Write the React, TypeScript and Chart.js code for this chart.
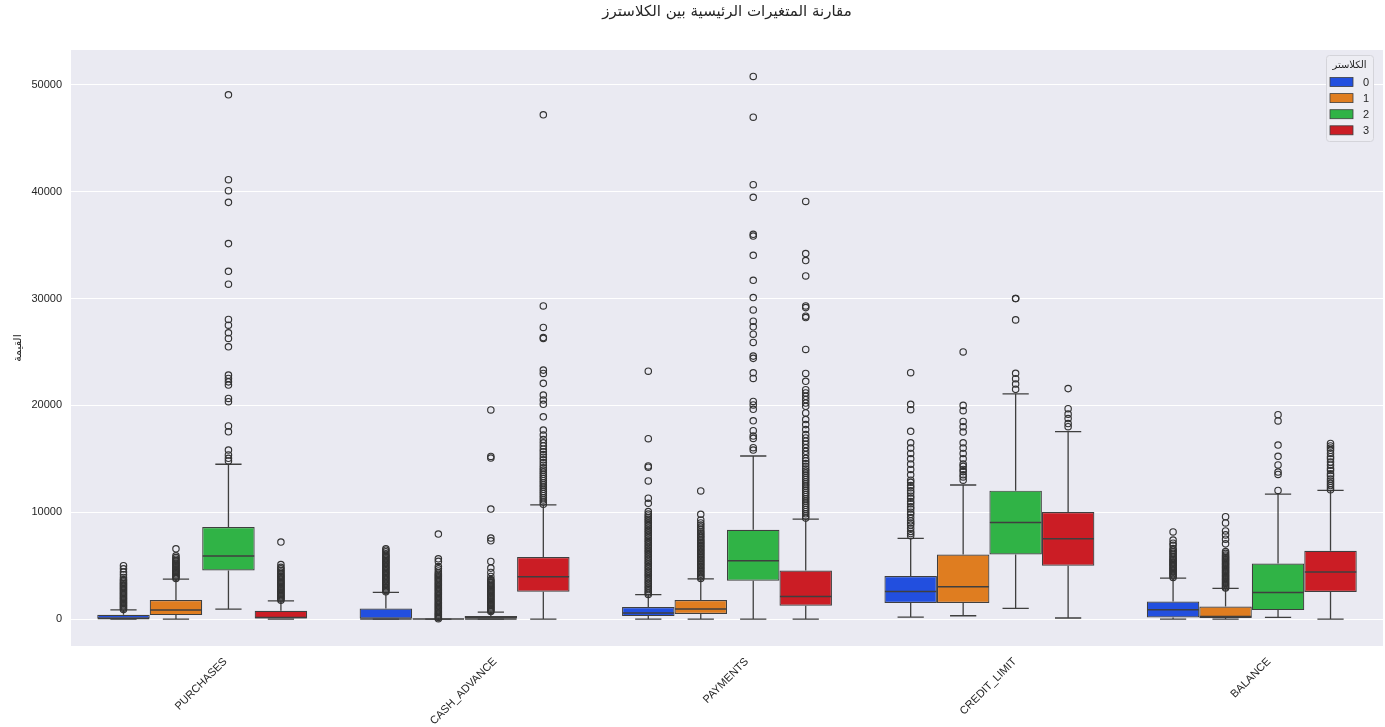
import { useEffect, useRef } from 'react';
import { Chart, registerables } from 'chart.js';

Chart.register(...registerables);

const chartTitle = 'مقارنة المتغيرات الرئيسية بين الكلاسترز';
const yAxisTitle = 'القيمة';
const legendTitle = 'الكلاستر';

const categories = ['PURCHASES', 'CASH_ADVANCE', 'PAYMENTS', 'CREDIT_LIMIT', 'BALANCE'];
const clusters = ['0', '1', '2', '3'];
const yTickValues = [0, 10000, 20000, 30000, 40000, 50000];

// box statistics per cluster, in category order
const whiskerLow = [
  [0, 0, 0, 190, 0],
  [0, 0, 0, 310, 0],
  [940, 0, 0, 1000, 150],
  [0, 0, 0, 100, 0],
];
const q1 = [
  [0, 0, 280, 1500, 150],
  [370, 0, 470, 1500, 90],
  [4550, 0, 3590, 6050, 840],
  [0, 2560, 1250, 5000, 2530],
];
const median = [
  [60, 0, 560, 2580, 870],
  [840, 0, 940, 3020, 240],
  [5900, 0, 5460, 9050, 2490],
  [150, 3960, 2120, 7520, 4400],
];
const q3 = [
  [400, 990, 1120, 4030, 1650],
  [1780, 0, 1780, 6050, 1180],
  [8610, 280, 8360, 12020, 5200],
  [780, 5800, 4550, 10020, 6400],
];
const whiskerHigh = [
  [870, 2490, 2280, 7550, 3840],
  [3740, 0, 3770, 12550, 2870],
  [14490, 650, 15260, 21070, 11700],
  [1710, 10680, 9360, 17540, 12040],
];

// outliers per cluster, per category
const outliers0 = [
  [900, 1010, 1120, 1240, 1350, 1470, 1580, 1700, 1820, 1930, 2050, 2160, 2280, 2400, 2510, 2630, 2740, 2860, 2980, 3090, 3210, 3330, 3450, 3580, 3700, 3900, 4150, 4400, 4700, 5000],
  [2550, 2670, 2790, 2910, 3030, 3160, 3280, 3400, 3520, 3650, 3770, 3890, 4010, 4140, 4260, 4380, 4500, 4630, 4750, 4870, 4990, 5120, 5240, 5360, 5480, 5610, 5730, 5850, 5970, 6100, 6300, 6450, 6580],
  [2300, 2450, 2610, 2760, 2930, 3080, 3250, 3400, 3570, 3720, 3890, 4050, 4200, 4370, 4520, 4690, 4850, 5000, 5170, 5320, 5490, 5650, 5800, 5970, 6130, 6290, 6440, 6610, 6770, 6920, 7090, 7250, 7400, 7570, 7730, 7880, 8050, 8210, 8360, 8530, 8690, 8840, 9010, 9170, 9330, 9490, 9650, 9820, 10060, 10840, 11310, 12930, 14210, 14330, 16880, 23200],
  [7800, 8000, 8200, 8500, 8800, 9000, 9200, 9500, 9800, 10000, 10300, 10500, 10800, 11000, 11300, 11500, 11800, 12000, 12300, 12500, 12800, 13000, 13500, 14000, 14500, 15000, 15500, 16000, 16500, 17570, 19600, 20100, 23060],
  [3900, 4020, 4140, 4260, 4380, 4500, 4620, 4740, 4860, 4980, 5100, 5220, 5340, 5460, 5580, 5700, 5850, 6000, 6150, 6300, 6450, 6600, 6900, 7100, 7400, 8150],
];
const outliers1 = [
  [3800, 3910, 4020, 4130, 4240, 4350, 4460, 4570, 4680, 4790, 4900, 5010, 5120, 5230, 5350, 5470, 5600, 5750, 5920, 6580],
  [40, 150, 260, 370, 480, 600, 720, 840, 960, 1080, 1200, 1320, 1440, 1560, 1680, 1800, 1920, 2040, 2160, 2280, 2400, 2520, 2640, 2760, 2880, 3000, 3120, 3240, 3360, 3480, 3600, 3720, 3840, 3960, 4080, 4200, 4320, 4500, 4700, 4920, 5400, 5640, 7960],
  [3800, 3930, 4060, 4190, 4320, 4450, 4580, 4710, 4840, 4970, 5100, 5230, 5360, 5490, 5620, 5750, 5880, 6010, 6140, 6270, 6400, 6530, 6660, 6790, 6920, 7050, 7180, 7310, 7450, 7600, 7750, 7900, 8050, 8200, 8400, 8600, 8800, 9000, 9280, 9810, 11990],
  [13000, 13300, 13500, 13800, 14000, 14300, 14500, 15000, 15500, 16000, 16500, 17500, 18000, 18500, 19500, 20000, 25000],
  [2900, 3010, 3120, 3230, 3340, 3450, 3560, 3670, 3780, 3890, 4000, 4110, 4220, 4330, 4440, 4550, 4660, 4770, 4880, 4990, 5100, 5210, 5320, 5430, 5540, 5650, 5760, 5880, 6000, 6150, 6320, 7040, 7480, 7880, 8250, 9000, 9580],
];
const outliers2 = [
  [14800, 15050, 15360, 15820, 17530, 18070, 20340, 20650, 21900, 22200, 22520, 22830, 25480, 26260, 26790, 27500, 28040, 31340, 32550, 35140, 39000, 40090, 41120, 49070],
  [700, 810, 920, 1030, 1140, 1250, 1360, 1470, 1580, 1690, 1800, 1910, 2020, 2130, 2240, 2350, 2460, 2570, 2680, 2790, 2900, 3010, 3120, 3240, 3360, 3480, 3600, 3700, 3990, 4360, 4770, 5390, 7330, 7580, 10300, 15070, 15220, 19570],
  [15820, 16040, 16910, 17130, 17630, 18560, 19630, 20040, 20370, 22520, 23050, 24400, 24610, 25890, 26660, 27350, 27880, 28930, 30090, 31710, 34050, 35850, 36010, 39470, 40650, 46970, 50780],
  [21500, 22000, 22500, 23000, 28000, 30000, 30000],
  [12040, 13540, 13760, 14420, 15230, 16290, 18540, 19130],
];
const outliers3 = [
  [1760, 1870, 1980, 2090, 2200, 2310, 2420, 2530, 2640, 2750, 2860, 2970, 3080, 3190, 3300, 3410, 3520, 3640, 3760, 3880, 4000, 4130, 4260, 4400, 4550, 4700, 4850, 5100, 7210],
  [10750, 10950, 11150, 11350, 11550, 11750, 11950, 12150, 12350, 12550, 12750, 12950, 13150, 13350, 13550, 13750, 13950, 14150, 14400, 14650, 14900, 15150, 15400, 15650, 15900, 16200, 16500, 16800, 17220, 17690, 18930, 20100, 20500, 20970, 22060, 22990, 23300, 26260, 26350, 27290, 29310, 47200],
  [9450, 9650, 9850, 10050, 10250, 10450, 10650, 10850, 11050, 11250, 11450, 11650, 11850, 12050, 12250, 12450, 12650, 12850, 13050, 13250, 13450, 13650, 13850, 14050, 14300, 14550, 14800, 15050, 15400, 15700, 16030, 16350, 16650, 16950, 17270, 17740, 18200, 18670, 19290, 19910, 20220, 20540, 20850, 21160, 21470, 22250, 22990, 25230, 28220, 28350, 29150, 29310, 32110, 33550, 34210, 39090],
  [18000, 18300, 18770, 19180, 19690, 21570],
  [12100, 12300, 12500, 12700, 12900, 13100, 13400, 13600, 13900, 14100, 14400, 14700, 15000, 15200, 15500, 15800, 16000, 16200, 16440],
];
const outliers = [outliers0, outliers1, outliers2, outliers3];

const boxColors = ['#224fdf', '#df7d20', '#30b346', '#cb1d25'];
const lineColor = '#3f3f3f';
const flierColor = '#333333';
const plotBg = '#eaeaf2';
const textColor = '#262626';
const latinFont = '"Liberation Sans", Arial, sans-serif';
const arabicFont = '"DejaVu Sans", sans-serif';

const backgroundPlugin = {
  id: 'plotBackground',
  beforeDraw(chart: any) {
    const { ctx, chartArea } = chart;
    ctx.save();
    ctx.fillStyle = plotBg;
    ctx.fillRect(chartArea.left, chartArea.top, chartArea.right - chartArea.left, chartArea.bottom - chartArea.top);
    ctx.restore();
  },
};

const boxPlugin = {
  id: 'boxDetails',
  afterDatasetsDraw(chart: any) {
    const { ctx, chartArea } = chart;
    const ys = chart.scales.y;
    ctx.save();
    ctx.beginPath();
    ctx.rect(chartArea.left, chartArea.top, chartArea.right - chartArea.left, chartArea.bottom - chartArea.top);
    ctx.clip();
    clusters.forEach((_, k) => {
      const meta = chart.getDatasetMeta(k);
      meta.data.forEach((bar: any, i: number) => {
        const { x, width } = bar.getProps(['x', 'width'], true);
        const half = width / 2;
        const capHalf = width / 4;
        ctx.strokeStyle = lineColor;
        ctx.lineWidth = 1.3;
        ctx.beginPath();
        // whiskers
        ctx.moveTo(x, ys.getPixelForValue(q3[k][i]));
        ctx.lineTo(x, ys.getPixelForValue(whiskerHigh[k][i]));
        ctx.moveTo(x, ys.getPixelForValue(q1[k][i]));
        ctx.lineTo(x, ys.getPixelForValue(whiskerLow[k][i]));
        // caps
        const yh = ys.getPixelForValue(whiskerHigh[k][i]);
        const yl = ys.getPixelForValue(whiskerLow[k][i]);
        ctx.moveTo(x - capHalf, yh);
        ctx.lineTo(x + capHalf, yh);
        ctx.moveTo(x - capHalf, yl);
        ctx.lineTo(x + capHalf, yl);
        ctx.stroke();
        // median
        const ym = ys.getPixelForValue(median[k][i]);
        ctx.lineWidth = 1.5;
        ctx.beginPath();
        ctx.moveTo(x - half + 0.5, ym);
        ctx.lineTo(x + half - 0.5, ym);
        ctx.stroke();
        // fliers
        ctx.strokeStyle = flierColor;
        ctx.lineWidth = 1.15;
        outliers[k][i].forEach((v: number) => {
          ctx.beginPath();
          ctx.arc(x, ys.getPixelForValue(v), 3.2, 0, Math.PI * 2);
          ctx.stroke();
        });
      });
    });
    ctx.restore();
  },
};

const labelsPlugin = {
  id: 'labelsAndLegend',
  afterDraw(chart: any) {
    const { ctx, chartArea } = chart;
    const xs = chart.scales.x;
    ctx.save();
    // rotated category labels, centered under each tick
    ctx.font = `11px ${latinFont}`;
    ctx.fillStyle = textColor;
    categories.forEach((label, i) => {
      const x = xs.getPixelForTick(i);
      const w = ctx.measureText(label).width;
      const halfBox = ((w + 11) * Math.SQRT1_2) / 2;
      ctx.save();
      ctx.translate(x - 1, chartArea.bottom + 10 + halfBox);
      ctx.rotate(-Math.PI / 4);
      ctx.textAlign = 'center';
      ctx.textBaseline = 'middle';
      ctx.fillText(label, 0, 0);
      ctx.restore();
    });

    // legend
    const lx = chartArea.right - 57;
    const ly = chartArea.top + 5;
    const lw = 47;
    const lh = 86;
    ctx.fillStyle = '#ededf3';
    ctx.strokeStyle = '#d4d4da';
    ctx.lineWidth = 1;
    ctx.beginPath();
    if ((ctx as any).roundRect) (ctx as any).roundRect(lx + 0.5, ly + 0.5, lw, lh, 3);
    else ctx.rect(lx + 0.5, ly + 0.5, lw, lh);
    ctx.fill();
    ctx.stroke();
    ctx.fillStyle = textColor;
    ctx.font = `10px ${arabicFont}`;
    ctx.textAlign = 'center';
    ctx.textBaseline = 'middle';
    ctx.fillText(legendTitle, lx + lw / 2, ly + 10);
    ctx.font = `11px ${latinFont}`;
    clusters.forEach((c, k) => {
      const ry = ly + 27 + k * 16.1;
      ctx.fillStyle = boxColors[k];
      ctx.fillRect(lx + 4, ry - 4.5, 23, 9);
      ctx.strokeStyle = lineColor;
      ctx.lineWidth = 0.8;
      ctx.strokeRect(lx + 4, ry - 4.5, 23, 9);
      ctx.fillStyle = textColor;
      ctx.fillText(c, lx + 40, ry + 0.5);
    });
    ctx.restore();
  },
};

export default function App() {
  const canvasRef = useRef<HTMLCanvasElement | null>(null);

  useEffect(() => {
    document.body.style.margin = '0';
    const canvas = canvasRef.current;
    if (!canvas) return;
    const chart = new Chart(canvas, {
      type: 'bar',
      data: {
        labels: categories,
        datasets: clusters.map((c, k) => ({
          label: c,
          data: q1[k].map((v, i) => [v, q3[k][i]]),
          backgroundColor: boxColors[k],
          borderColor: lineColor,
          borderWidth: 1.2,
          borderSkipped: false,
          categoryPercentage: 0.8,
          barPercentage: 1.0,
        })) as any,
      },
      options: {
        responsive: true,
        maintainAspectRatio: false,
        animation: false,
        events: [],
        layout: { padding: { left: 0, right: 2, top: 0, bottom: 0 } },
        plugins: {
          legend: { display: false },
          tooltip: { enabled: false },
          title: {
            display: true,
            text: chartTitle,
            fullSize: false,
            color: textColor,
            font: { family: arabicFont, size: 15, weight: 'normal' },
            padding: { top: 3, bottom: 29 },
          },
        },
        scales: {
          x: {
            grid: { display: false },
            border: { display: false },
            ticks: { display: false },
            afterFit: (s: any) => {
              s.height = 81;
            },
          },
          y: {
            min: -2520,
            max: 53260,
            grid: { color: '#ffffff', lineWidth: 1, drawTicks: false },
            border: { display: false },
            ticks: {
              padding: 9,
              color: textColor,
              font: { family: latinFont, size: 11 },
              callback: (v: any) => String(v),
            },
            afterBuildTicks: (s: any) => {
              s.ticks = yTickValues.map((v) => ({ value: v }));
            },
            afterFit: (s: any) => {
              s.width = 71;
            },
            title: {
              display: true,
              text: yAxisTitle,
              color: textColor,
              font: { family: arabicFont, size: 11 },
              padding: { top: 12, bottom: 0 },
            },
          },
        },
      } as any,
      plugins: [backgroundPlugin, boxPlugin, labelsPlugin],
    });
    return () => chart.destroy();
  }, []);

  return (
    <div style={{ width: 1385, height: 727, position: 'relative', background: '#ffffff' }}>
      <canvas ref={canvasRef} />
    </div>
  );
}
